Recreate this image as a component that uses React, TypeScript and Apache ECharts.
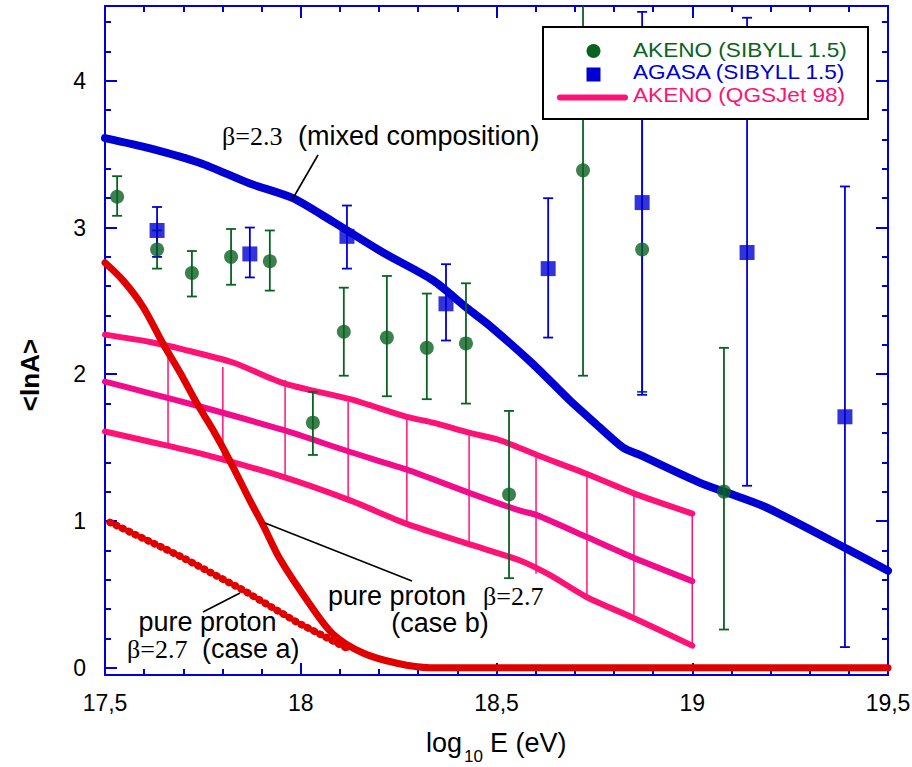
import React, { useEffect, useRef } from 'react';
import * as echarts from 'echarts';

// ---------- data ----------
const X_MIN = 17.5;
const X_MAX = 19.5;
const Y_MIN = -0.05;
const Y_MAX = 4.51;

const yMajorTicks = [0, 1, 2, 3, 4];
const yMinorTicks = [0.2, 0.4, 0.6, 0.8, 1.2, 1.4, 1.6, 1.8, 2.2, 2.4, 2.6, 2.8, 3.2, 3.4, 3.6, 3.8, 4.2, 4.4];

// [log10 E, <lnA>, lower, upper]
const akenoSibyll = [
  [17.531, 3.21, 3.08, 3.35],
  [17.633, 2.85, 2.72, 2.98],
  [17.722, 2.69, 2.53, 2.84],
  [17.822, 2.8, 2.61, 2.99],
  [17.921, 2.77, 2.57, 2.98],
  [18.031, 1.67, 1.45, 1.88],
  [18.11, 2.29, 1.99, 2.59],
  [18.22, 2.25, 1.85, 2.67],
  [18.322, 2.18, 1.83, 2.55],
  [18.422, 2.21, 1.8, 2.62],
  [18.532, 1.18, 0.61, 1.75],
  [18.721, 3.39, 1.99, 4.8],
  [18.872, 2.85, 1.88, 3.82],
  [19.081, 1.2, 0.26, 2.18],
];

const agasaSibyll = [
  [17.633, 2.98, 2.8, 3.14],
  [17.87, 2.82, 2.66, 3.0],
  [18.118, 2.94, 2.72, 3.15],
  [18.371, 2.48, 2.23, 2.75],
  [18.632, 2.72, 2.25, 3.2],
  [18.872, 3.17, 1.86, 4.47],
  [19.14, 2.83, 1.24, 4.43],
  [19.39, 1.71, 0.14, 3.28],
];

const qgsUpper = [
  [17.5, 2.27], [17.615, 2.22], [17.699, 2.17], [17.827, 2.08], [17.955, 1.94],
  [18.126, 1.83], [18.271, 1.71], [18.338, 1.67], [18.432, 1.6], [18.509, 1.55],
  [18.603, 1.45], [18.731, 1.32], [18.849, 1.19], [19.0, 1.05],
];
const qgsMiddle = [
  [17.5, 1.95], [17.615, 1.87], [17.743, 1.78], [17.955, 1.62], [18.126, 1.47],
  [18.271, 1.35], [18.432, 1.19], [18.56, 1.07], [18.603, 1.04], [18.731, 0.89],
  [18.849, 0.75], [19.0, 0.59],
];
const qgsLower = [
  [17.5, 1.61], [17.615, 1.54], [17.743, 1.46], [17.955, 1.3],
  [18.126, 1.14], [18.271, 0.98], [18.432, 0.84], [18.56, 0.73], [18.637, 0.63],
  [18.731, 0.48], [18.849, 0.34], [19.0, 0.15],
];
// [log10 E, lower, upper] of the thin vertical connectors
const qgsBars = [
  [17.661, 1.5, 2.18], [17.801, 1.4, 2.05], [17.96, 1.28, 1.96], [18.121, 1.14, 1.81],
  [18.271, 0.98, 1.71], [18.43, 0.84, 1.58], [18.601, 0.64, 1.45], [18.731, 0.49, 1.31],
  [18.851, 0.36, 1.18], [19.0, 0.15, 1.05],
];

const mixedBeta23 = [
  [17.5, 3.61], [17.615, 3.54], [17.743, 3.44], [17.87, 3.3], [17.98, 3.2],
  [18.082, 3.04], [18.21, 2.83], [18.338, 2.64], [18.425, 2.45], [18.483, 2.33],
  [18.593, 2.07], [18.688, 1.82], [18.746, 1.68], [18.823, 1.5], [18.866, 1.45],
  [19.02, 1.26], [19.081, 1.2], [19.191, 1.09], [19.395, 0.81], [19.5, 0.66],
];

const protonCaseB = [
  [17.5, 2.76], [17.546, 2.64], [17.597, 2.46], [17.648, 2.21], [17.692, 2.01],
  [17.735, 1.8], [17.776, 1.62], [17.819, 1.41], [17.87, 1.14], [17.904, 0.97],
  [17.947, 0.74], [18.016, 0.46], [18.082, 0.23], [18.159, 0.1], [18.246, 0.03],
  [18.33, 0.0], [19.5, 0.0],
];

const protonCaseA = [
  [17.513, 0.99], [17.692, 0.76], [17.852, 0.53], [17.99, 0.31], [18.12, 0.13],
];

// ---------- styles ----------
const BLUE = '#0000d2';
const GREEN = '#0a6221';
const PINK = '#ff1276';
const PINK_MID = '#f20c8c';
const RED = '#e00000';
const SANS = '"Liberation Sans", Arial, sans-serif';
const SERIF = '"Liberation Serif", "Times New Roman", serif';

function errorBars(color: string) {
  return (_params: any, api: any) => {
    const x = api.value(0);
    const lo = api.value(2);
    const hi = api.value(3);
    const top = api.coord([x, Math.min(hi, Y_MAX)]);
    const bot = api.coord([x, Math.max(lo, Y_MIN)]);
    const st = { stroke: color, lineWidth: 1.8 };
    const cap = 5;
    const children: any[] = [
      { type: 'line', shape: { x1: top[0], y1: top[1], x2: bot[0], y2: bot[1] }, style: st },
      { type: 'line', shape: { x1: bot[0] - cap, y1: bot[1], x2: bot[0] + cap, y2: bot[1] }, style: st },
    ];
    if (hi <= Y_MAX) {
      children.push({ type: 'line', shape: { x1: top[0] - cap, y1: top[1], x2: top[0] + cap, y2: top[1] }, style: st });
    }
    return { type: 'group', children };
  };
}

function bandBars(_params: any, api: any) {
  const x = api.value(0);
  const a = api.coord([x, api.value(1)]);
  const b = api.coord([x, api.value(2)]);
  return {
    type: 'line',
    shape: { x1: a[0], y1: a[1], x2: b[0], y2: b[1] },
    style: { stroke: PINK, lineWidth: 1.5 },
  };
}

const tickStyle = { color: BLUE, width: 2 };

function xAxisDef(position: 'bottom' | 'top', labels: boolean) {
  return {
    type: 'value',
    position,
    min: X_MIN,
    max: X_MAX,
    interval: 0.5,
    axisLine: { show: true, onZero: false, lineStyle: { color: BLUE, width: 2 } },
    axisTick: { show: true, inside: true, length: 12, lineStyle: tickStyle },
    minorTick: { show: true, splitNumber: 5, length: 6, lineStyle: tickStyle },
    splitLine: { show: false },
    minorSplitLine: { show: false },
    axisLabel: {
      show: labels,
      color: '#000',
      fontSize: 23,
      fontFamily: SANS,
      margin: 16,
      formatter: (v: number) => String(v).replace('.', ','),
    },
  };
}

function yAxisDef(position: 'left' | 'right', ticks: number[], len: number, line: boolean, labels: boolean) {
  return {
    type: 'value',
    position,
    min: Y_MIN,
    max: Y_MAX,
    axisLine: { show: line, onZero: false, lineStyle: { color: BLUE, width: 2 } },
    axisTick: { show: true, inside: true, length: len, customValues: ticks, lineStyle: tickStyle },
    splitLine: { show: false },
    axisLabel: {
      show: labels,
      customValues: yMajorTicks,
      color: '#000',
      fontSize: 23,
      fontFamily: SANS,
      margin: 19,
    },
  };
}

const lineSeries = (data: number[][], color: string, width: number, z: number, smooth = 0.25) => ({
  type: 'line',
  data,
  symbol: 'none',
  z,
  silent: true,
  smooth,
  lineStyle: { color, width, cap: 'round', join: 'round' },
});

const txt = (text: string, x: number, y: number, size: number, family: string, fill = '#000', align = 'left', extra: any = {}, el: any = {}) => ({
  type: 'text',
  x,
  y,
  z: 110,
  silent: true,
  ...el,
  style: { text, fill, fontSize: size, fontFamily: family, align, verticalAlign: 'middle', ...extra },
});

const leader = (x1: number, y1: number, x2: number, y2: number) => ({
  type: 'line',
  z: 110,
  silent: true,
  shape: { x1, y1, x2, y2 },
  style: { stroke: '#000', lineWidth: 1.6 },
});

export default function App() {
  const ref = useRef<HTMLDivElement>(null);

  useEffect(() => {
    document.body.style.margin = '0';
    const chart = echarts.init(ref.current!, null, { renderer: 'svg' });
    const legendText = { lineHeight: 21 };
    const legendEl = { scaleX: 1.13, scaleY: 1.04 };
    const option: any = {
      animation: false,
      backgroundColor: '#fff',
      textStyle: { fontFamily: SANS },
      grid: { left: 105, right: 24, top: 6, bottom: 92, containLabel: false, outerBoundsMode: 'none' },
      xAxis: [xAxisDef('bottom', true), xAxisDef('top', false)],
      yAxis: [
        yAxisDef('left', yMajorTicks, 12, true, true),
        yAxisDef('left', yMinorTicks, 6, false, false),
        yAxisDef('right', yMajorTicks, 12, true, false),
        yAxisDef('right', yMinorTicks, 6, false, false),
      ],
      series: [
        { name: 'AKENO (QGSJet 98) upper', ...lineSeries(qgsUpper, PINK, 6, 2) },
        { name: 'AKENO (QGSJet 98)', ...lineSeries(qgsMiddle, PINK_MID, 6, 2) },
        { name: 'AKENO (QGSJet 98) lower', ...lineSeries(qgsLower, PINK, 6, 2) },
        { type: 'custom', name: 'QGSJet band', data: qgsBars, renderItem: bandBars, z: 2, silent: true },
        { name: 'pure proton case b', ...lineSeries(protonCaseB, RED, 7, 3, 0.3) },
        { name: 'pure proton case a', ...lineSeries(protonCaseA, RED, 4, 3, 0) },
        {
          type: 'line',
          name: 'pure proton case a beads',
          data: protonCaseA,
          symbol: 'none',
          z: 3,
          silent: true,
          lineStyle: { color: RED, width: 7.5, cap: 'round', type: [0.5, 6.5] },
        },
        { name: 'mixed composition', ...lineSeries(mixedBeta23, BLUE, 8, 4, 0.25) },
        { type: 'custom', name: 'AKENO err', data: akenoSibyll, renderItem: errorBars(GREEN), z: 5, silent: true },
        { type: 'custom', name: 'AGASA err', data: agasaSibyll, renderItem: errorBars(BLUE), z: 5, silent: true },
        {
          type: 'scatter',
          name: 'AKENO (SIBYLL 1.5)',
          data: akenoSibyll.map((d) => [d[0], d[1]]),
          symbol: 'circle',
          symbolSize: 14,
          itemStyle: { color: GREEN },
          z: 6,
          silent: true,
        },
        {
          type: 'scatter',
          name: 'AGASA (SIBYLL 1.5)',
          data: agasaSibyll.map((d) => [d[0], d[1]]),
          symbol: 'rect',
          symbolSize: 15,
          itemStyle: { color: BLUE },
          z: 6,
          silent: true,
        },
      ],
      graphic: [
        // legend
        { type: 'rect', z: 100, silent: true, shape: { x: 543, y: 27, width: 325, height: 92 }, style: { fill: '#fff', stroke: '#000', lineWidth: 2 } },
        { type: 'circle', z: 101, silent: true, shape: { cx: 593.5, cy: 51, r: 7 }, style: { fill: GREEN } },
        { type: 'rect', z: 101, silent: true, shape: { x: 586.5, y: 67.5, width: 14, height: 14 }, style: { fill: BLUE } },
        { type: 'line', z: 101, silent: true, shape: { x1: 560, y1: 97.5, x2: 625, y2: 97.5 }, style: { stroke: PINK, lineWidth: 6, lineCap: 'round' } },
        txt('AKENO (SIBYLL 1.5)', 633, 49.5, 20, SANS, GREEN, 'left', legendText, legendEl),
        txt('AGASA (SIBYLL 1.5)', 633, 72, 20, SANS, BLUE, 'left', legendText, legendEl),
        txt('AKENO (QGSJet 98)', 633, 95, 20, SANS, PINK, 'left', legendText, legendEl),
        // annotations
        txt('β=2.3', 222, 136, 26, SERIF),
        txt('(mixed composition)', 298, 135.5, 27, SANS),
        leader(292, 200, 318, 155),
        txt('pure proton', 328, 595.5, 27, SANS),
        txt('β=2.7', 483, 596, 26, SERIF),
        txt('(case b)', 440, 622.5, 27, SANS, '#000', 'center'),
        leader(265, 523, 412, 581),
        txt('pure proton', 207.5, 622, 27, SANS, '#000', 'center', { lineHeight: 24 }),
        txt('β=2.7', 127, 649, 26, SERIF, '#000', 'left', { lineHeight: 24 }),
        txt('(case a)', 202, 648.5, 27, SANS, '#000', 'left', { lineHeight: 24 }),
        leader(203, 612, 240, 593),
        // axis titles
        {
          type: 'text',
          x: 30,
          y: 375,
          rotation: Math.PI / 2,
          z: 110,
          silent: true,
          style: { text: '<lnA>', fill: '#000', fontSize: 26, fontWeight: 'bold', fontFamily: SANS, align: 'center', verticalAlign: 'middle' },
        },
        txt('log', 426, 742.5, 27, SANS),
        txt('10', 464, 756.5, 17, SANS),
        txt('E (eV)', 490, 742.5, 27, SANS),
      ],
    };
    chart.setOption(option);
    return () => chart.dispose();
  }, []);

  return <div ref={ref} style={{ width: 912, height: 767, display: 'block' }} />;
}
